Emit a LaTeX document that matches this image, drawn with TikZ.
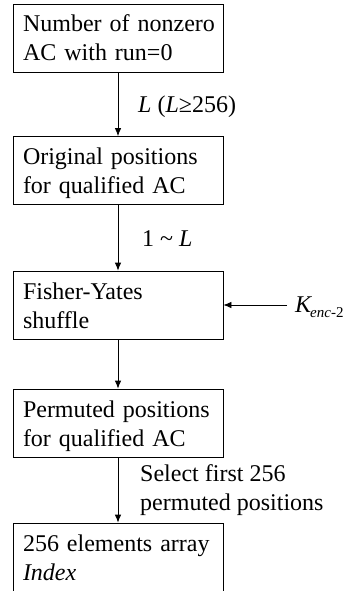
\documentclass[tikz,border=0pt]{standalone}
\usepackage{fontspec}
\setmainfont{Liberation Serif}
\usetikzlibrary{arrows.meta}
\begin{document}
\begin{tikzpicture}[x=1pt,y=1pt,
  every node/.style={font=\fontsize{24}{29}\selectfont},
  flowbox/.style={draw, line width=0.8pt, rectangle, minimum width=210pt, minimum height=68pt,
    text width=190pt, align=left, inner xsep=10pt, inner ysep=0pt,
    text height=17pt, text depth=29pt},
  lastbox/.style={flowbox, minimum height=80pt, text depth=41pt},
  lbl/.style={anchor=base west, inner sep=0pt, align=left},
  flow/.style={draw, line width=0.8pt, -{Latex[length=8pt,width=6.5pt]}}]
\useasboundingbox (0,0) rectangle (347,-591);
\node[flowbox] (b1) at (118,-38) {\mbox{Number of nonzero}\\AC with run=0};
\node[flowbox] (b2) at (118,-170.5) {Original positions\\for qualified AC};
\node[flowbox] (b3) at (118,-305) {Fisher-Yates\\shuffle};
\node[flowbox] (b4) at (118,-423) {Permuted positions\\for qualified AC};
\node[lastbox] (b5) at (118,-563) {256 elements array\\\textit{Index}};
\draw[flow] (b1) -- (b2);
\draw[flow] (b2) -- (b3);
\draw[flow] (b3) -- (b4);
\draw[flow] (b4) -- (b5);
\node[lbl] (l1) at (138,-113) {\textit{L} (\textit{L}≥256)};
\node[lbl] (l2) at (142,-246) {1 \textasciitilde\ \textit{L}};
\node[lbl] (l3) at (140,-510) {Select first 256\\permuted positions};
\coordinate (kin) at (287,-305);
\draw[flow] (kin) -- (b3.east);
\node[lbl] (k) at (295,-312) {\textit{K}\kern-2pt\raisebox{-5pt}{\fontsize{15}{15}\selectfont\textit{enc}-2}};
\end{tikzpicture}
\end{document}
